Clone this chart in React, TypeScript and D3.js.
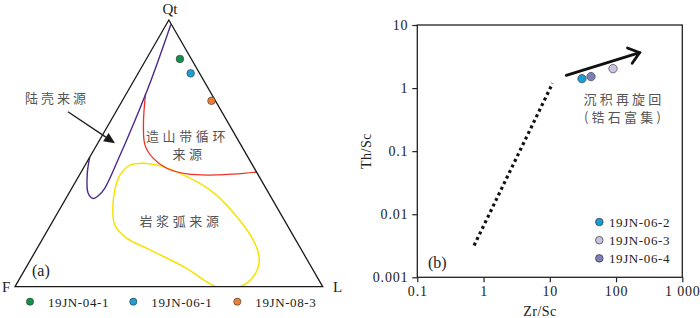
import React, { useEffect, useRef } from 'react';
import * as d3 from 'd3';

// ---- (a) Qt-F-L ternary, values as [Qt, F, L] percent ----
const craton: number[][] = [
  [48.6, 51.4, 0], [42.6, 55.2, 2.2], [35.1, 58.7, 6.2], [33.1, 58.1, 8.8],
  [34.0, 56.0, 10.0], [37.0, 52.3, 10.7], [47.5, 42.8, 9.7], [62.5, 29.7, 7.8],
  [77.5, 17.0, 5.5], [98.3, 0.2, 1.5],
];
const recycled: number[][] = [
  [72.3, 21.5, 6.3], [61.3, 27.6, 11.1], [53.1, 31.2, 15.7], [48.1, 31.0, 20.9],
  [44.4, 28.5, 27.1], [42.3, 23.0, 34.7], [41.9, 13.5, 44.6], [43.0, 0, 57.0],
];
const magmaticArc: number[][] = [
  [45.6, 39.8, 14.6], [46.3, 35.2, 18.5], [45.3, 30.2, 24.5], [42.5, 25.1, 32.4],
  [36.3, 18.5, 45.2], [26.3, 14.8, 58.9], [16.3, 13.9, 69.8], [10.0, 15.6, 74.4],
  [3.8, 20.6, 75.6], [0, 26.9, 73.1], [0, 34.5, 65.5], [6.9, 40.8, 52.3],
  [13.8, 49.2, 37.0], [18.2, 54.6, 27.2], [23.1, 56.0, 20.9], [28.8, 53.8, 17.4],
  [36.3, 49.4, 14.3], [41.9, 44.9, 13.2],
];
const qflSamples = ['19JN-04-1', '19JN-06-1', '19JN-08-3'];
const qflValues: number[][] = [[85.4, 3.7, 10.9], [80.0, 2.9, 17.1], [69.7, 1.3, 29.0]];
const qflColors = ['#13904a', '#1e9fd6', '#ec7f34'];
const cratonArrow: number[][] = [[65.6, 50.0, -15.6], [53.8, 40.6, 5.6]];

// ---- (b) Th/Sc vs Zr/Sc ----
const thSamples = ['19JN-06-2', '19JN-06-3', '19JN-06-4'];
const zrSc = [30.6, 90, 41.9];
const thSc = [1.41, 2.03, 1.52];
const thColors = ['#1a9cd4', '#cbc3df', '#7c80b6'];
const compositionTrend: number[][] = [[0.72, 0.0032], [11, 1.19]];
const recyclingArrow: number[][] = [[17.7, 1.59], [227, 3.65]];
const xTicks = [0.1, 1, 10, 100, 1000];
const xTickLabels = ['0.1', '1', '10', '100', '1 000'];
const yTicks = [0.001, 0.01, 0.1, 1, 10];
const yTickLabels = ['0.001', '0.01', '0.1', '1', '10'];

const SERIF = '"Liberation Serif", "Times New Roman", serif';
const CJK = '"Noto Sans CJK SC", sans-serif';

const App: React.FC = () => {
  const svgRef = useRef<SVGSVGElement>(null);

  useEffect(() => {
    const svg = d3.select(svgRef.current);
    svg.selectAll('*').remove();

    // ================= (a) ternary =================
    const tx = d3.scaleLinear().domain([0, 1]).range([15, 322.7]);
    const ty = d3.scaleLinear().domain([0, 1]).range([286.7, 20]);
    const project = (d: number[]): [number, number] => {
      const s = d[0] + d[1] + d[2];
      const q = d[0] / s;
      const l = d[2] / s;
      return [tx(l + q / 2), ty(q)];
    };
    const corners = [[100, 0, 0], [0, 100, 0], [0, 0, 100]].map(project);

    const a = svg.append('g');
    a.append('clipPath').attr('id', 'triClip')
      .append('polygon').attr('points', corners.map(p => p.join(',')).join(' '));

    const curve = d3.line<number[]>()
      .x(d => project(d)[0]).y(d => project(d)[1])
      .curve(d3.curveCatmullRom.alpha(0.5));
    const closedCurve = d3.line<number[]>()
      .x(d => project(d)[0]).y(d => project(d)[1])
      .curve(d3.curveCatmullRomClosed.alpha(0.5));

    a.append('path').attr('d', closedCurve(magmaticArc)).attr('fill', 'none')
      .attr('stroke', '#f5e300').attr('stroke-width', 1.5).attr('clip-path', 'url(#triClip)');
    a.append('path').attr('d', curve(recycled)).attr('fill', 'none')
      .attr('stroke', '#ee3124').attr('stroke-width', 1.3);
    a.append('path').attr('d', curve(craton)).attr('fill', 'none')
      .attr('stroke', '#4b2a8c').attr('stroke-width', 1.4);

    a.append('polygon').attr('points', corners.map(p => p.join(',')).join(' '))
      .attr('fill', 'none').attr('stroke', '#1a1a1a').attr('stroke-width', 1.3);

    // arrow to continental block field
    const [p0, p1] = cratonArrow.map(project);
    const ang = Math.atan2(p1[1] - p0[1], p1[0] - p0[0]);
    const headLen = 11;
    const base: [number, number] = [p1[0] - headLen * Math.cos(ang), p1[1] - headLen * Math.sin(ang)];
    a.append('line').attr('x1', p0[0]).attr('y1', p0[1]).attr('x2', base[0]).attr('y2', base[1])
      .attr('stroke', '#1a1a1a').attr('stroke-width', 1.3);
    const nx = -Math.sin(ang), ny = Math.cos(ang);
    a.append('polygon')
      .attr('points', [p1, [base[0] + 5 * nx, base[1] + 5 * ny], [base[0] - 5 * nx, base[1] - 5 * ny]]
        .map(p => p.join(',')).join(' '))
      .attr('fill', '#1a1a1a');

    qflValues.forEach((d, i) => {
      const [x, y] = project(d);
      a.append('circle').attr('cx', x).attr('cy', y).attr('r', 3.8)
        .attr('fill', qflColors[i]).attr('stroke', '#333').attr('stroke-width', 0.6);
    });

    const addText = (g: any, x: number, y: number, t: string, opts: any = {}) =>
      g.append('text').attr('x', x).attr('y', y).text(t)
        .attr('font-family', opts.family || SERIF)
        .attr('font-size', opts.size || 14)
        .attr('fill', opts.fill || '#222')
        .attr('text-anchor', opts.anchor || 'start')
        .attr('letter-spacing', opts.ls || 0);

    const cjk = { family: CJK, fill: '#555', size: 13, ls: 3.6 };
    addText(a, 170, 14, 'Qt', { anchor: 'middle', size: 15 });
    addText(a, 2, 292, 'F', { size: 15 });
    addText(a, 333, 292, 'L', { size: 15 });
    addText(a, 32, 276, '(a)', { size: 16 });
    addText(a, 25, 103, '陆壳来源', { ...cjk, ls: 3 });
    addText(a, 146, 141, '造山带循环', cjk);
    addText(a, 189, 159, '来源', { ...cjk, anchor: 'middle' });
    addText(a, 181, 226, '岩浆弧来源', { ...cjk, anchor: 'middle' });

    const legX = [30, 133.3, 237.3];
    qflSamples.forEach((s, i) => {
      a.append('circle').attr('cx', legX[i]).attr('cy', 301.7).attr('r', 3.6)
        .attr('fill', qflColors[i]).attr('stroke', '#333').attr('stroke-width', 0.6);
      addText(a, legX[i] + 18, 306.5, s, { size: 13, ls: 0.6 });
    });

    // ================= (b) log-log =================
    const x = d3.scaleLog().domain([0.1, 1000]).range([417.3, 682.3]);
    const y = d3.scaleLog().domain([0.001, 10]).range([277.3, 25]);
    const b = svg.append('g');

    b.append('rect').attr('x', x(0.1)).attr('y', y(10))
      .attr('width', x(1000) - x(0.1)).attr('height', y(0.001) - y(10))
      .attr('fill', 'none').attr('stroke', '#222').attr('stroke-width', 1.3);

    const xAxis = b.append('g').attr('transform', `translate(0,${y(0.001)})`)
      .call(d3.axisBottom(x).tickValues(xTicks).tickSize(5).tickPadding(4)
        .tickFormat((_, i) => xTickLabels[i]));
    const yAxis = b.append('g').attr('transform', `translate(${x(0.1)},0)`)
      .call(d3.axisLeft(y).tickValues(yTicks).tickSize(5).tickPadding(4)
        .tickFormat((_, i) => yTickLabels[i]));
    [xAxis, yAxis].forEach(ax => {
      ax.select('.domain').remove();
      ax.selectAll('line').attr('stroke', '#222').attr('stroke-width', 1.2);
      ax.selectAll('text').attr('font-family', SERIF).attr('font-size', 14)
        .attr('fill', '#222').attr('letter-spacing', 0.8);
    });

    addText(b, 540, 316, 'Zr/Sc', { anchor: 'middle', size: 14, ls: 0.5 });
    b.append('text').attr('transform', `translate(371,151) rotate(-90)`)
      .attr('text-anchor', 'middle').attr('font-family', SERIF).attr('font-size', 14)
      .attr('fill', '#222').attr('letter-spacing', 0.5).text('Th/Sc');

    const line = d3.line<number[]>().x(d => x(d[0])).y(d => y(d[1]));
    b.append('path').attr('d', line(compositionTrend)).attr('fill', 'none')
      .attr('stroke', '#111').attr('stroke-width', 3.2).attr('stroke-dasharray', '3 3.2');

    const [r0, r1] = recyclingArrow.map(d => [x(d[0]), y(d[1])]);
    b.append('line').attr('x1', r0[0]).attr('y1', r0[1]).attr('x2', r1[0]).attr('y2', r1[1])
      .attr('stroke', '#111').attr('stroke-width', 2.8).attr('stroke-linecap', 'round');
    const ra = Math.atan2(r1[1] - r0[1], r1[0] - r0[0]);
    const wing = (da: number) => [r1[0] - 13 * Math.cos(ra + da), r1[1] - 13 * Math.sin(ra + da)];
    b.append('path')
      .attr('d', `M${wing(0.66).join(',')}L${r1.join(',')}L${wing(-0.66).join(',')}`)
      .attr('fill', 'none').attr('stroke', '#111').attr('stroke-width', 2.8)
      .attr('stroke-linejoin', 'miter').attr('stroke-linecap', 'round');

    zrSc.forEach((v, i) => {
      b.append('circle').attr('cx', x(v)).attr('cy', y(thSc[i])).attr('r', 4.2)
        .attr('fill', thColors[i]).attr('stroke', '#444').attr('stroke-width', 0.7);
    });

    addText(b, 624, 104, '沉积再旋回', { ...cjk, ls: 3.2, anchor: 'middle' });
    addText(b, 624, 122, '(锆石富集)', { ...cjk, ls: 3.2, anchor: 'middle' });
    addText(b, 428, 268, '(b)', { size: 16 });

    thSamples.forEach((s, i) => {
      const cy = 222 + i * 18.2;
      b.append('circle').attr('cx', 599.3).attr('cy', cy).attr('r', 3.8)
        .attr('fill', thColors[i]).attr('stroke', '#333').attr('stroke-width', 0.7);
      addText(b, 609, cy + 4.6, s, { size: 13, ls: 0.6 });
    });
  }, []);

  return (
    <div style={{ position: 'absolute', left: 0, top: 0, width: 700, height: 318, background: '#fff' }}>
      <svg ref={svgRef} width={700} height={318}></svg>
    </div>
  );
};

export default App;
